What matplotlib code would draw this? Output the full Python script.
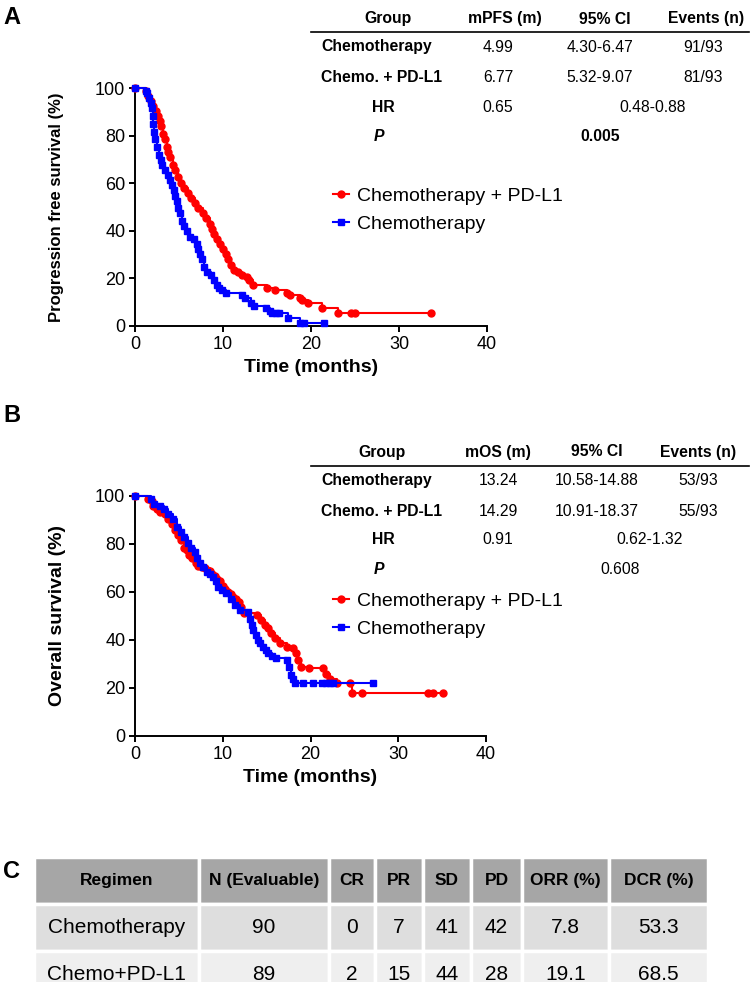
import matplotlib.pyplot as plt
from matplotlib.lines import Line2D

plt.rcParams['font.family'] = ['Liberation Sans', 'DejaVu Sans']

W, H = 750, 982

# ---- Kaplan-Meier step points (time in months, survival %) ----
pfs_combo_t = [0, 1.2, 1.5, 1.8, 2.1, 2.4, 2.6, 2.8, 3.0, 3.2, 3.4, 3.6, 3.8, 4.0, 4.3, 4.6,
               4.9, 5.2, 5.6, 6.0, 6.4, 6.8, 7.2, 7.7, 8.1, 8.5, 8.8, 9.0, 9.3, 9.7, 10.0,
               10.3, 10.6, 10.9, 11.3, 11.7, 12.2, 12.7, 13.0, 13.4, 15.0, 15.9, 17.3, 17.6,
               18.7, 19.0, 19.7, 21.2, 23.1, 24.6, 25.0, 33.6]
pfs_combo_s = [100, 98.9, 96.8, 94.6, 92.5, 90.3, 88.2, 86.0, 83.9, 80.6, 78.5, 75.3, 73.1,
               71.0, 67.7, 65.6, 62.4, 60.2, 58.1, 55.9, 53.8, 51.6, 49.5, 47.3, 45.2, 43.0,
               40.9, 38.7, 36.6, 34.4, 32.3, 30.1, 28.0, 25.8, 23.7, 22.6, 21.5, 20.4, 19.4,
               17.2, 16.1, 15.1, 14.0, 12.9, 11.8, 10.8, 9.7, 7.5, 5.6, 5.6, 5.6, 5.6]

pfs_chemo_t = [0, 1.2, 1.4, 1.6, 1.8, 1.9, 2.0, 2.1, 2.2, 2.3, 2.5, 2.7, 2.9, 3.1, 3.4, 3.7,
               4.0, 4.2, 4.4, 4.6, 4.8, 4.9, 5.1, 5.3, 5.6, 5.9, 6.3, 6.7, 7.0, 7.2, 7.4, 7.6,
               7.8, 8.2, 8.6, 9.0, 9.3, 9.6, 9.9, 10.3, 12.2, 12.5, 13.2, 13.5, 14.9, 15.3,
               15.6, 16.0, 16.4, 17.4, 18.8, 19.2, 21.5]
pfs_chemo_s = [100, 98.9, 97.8, 95.7, 93.5, 91.4, 88.2, 85.0, 81.7, 78.5, 75.3, 72.0, 69.9,
               67.7, 65.6, 63.4, 61.3, 59.1, 57.0, 54.8, 52.7, 49.5, 47.3, 44.1, 41.9, 39.8,
               37.6, 36.6, 34.4, 32.3, 30.1, 28.0, 24.7, 22.6, 21.5, 19.4, 17.2, 16.1, 15.1,
               14.0, 12.9, 11.8, 9.7, 8.6, 7.5, 6.5, 5.4, 5.4, 5.4, 3.2, 1.1, 1.1, 1.1]

os_combo_t = [0, 1.5, 1.9, 2.1, 2.5, 2.9, 3.4, 3.8, 4.2, 4.6, 4.9, 5.2, 5.6, 5.9, 6.2, 6.5,
              6.9, 7.2, 7.6, 8.0, 8.5, 8.8, 9.1, 9.4, 9.7, 10.0, 10.3, 10.6, 10.9, 11.2, 11.5,
              11.8, 12.1, 12.4, 13.9, 14.4, 14.8, 15.1, 15.5, 15.9, 16.5, 17.3, 18.0, 18.4,
              18.6, 18.9, 19.8, 21.4, 21.8, 22.2, 23.0, 24.5, 24.7, 25.9, 33.4, 34.0, 35.1]
os_combo_s = [100, 98.9, 97.8, 95.7, 94.6, 93.5, 92.5, 90.3, 88.2, 86.0, 83.9, 81.7, 78.5,
              77.4, 75.3, 74.2, 72.0, 71.0, 70.5, 69.9, 68.8, 67.7, 66.6, 65.6, 64.5, 62.4,
              61.3, 60.2, 59.1, 58.1, 57.0, 55.9, 53.8, 51.2, 50.4, 48.3, 46.2, 44.9, 42.8,
              40.7, 38.6, 37.2, 36.5, 34.4, 31.5, 28.6, 28.2, 28.2, 26.0, 23.8, 21.9, 21.9,
              18.1, 18.1, 18.1, 18.1, 18.1]

os_chemo_t = [0, 1.8, 2.2, 2.8, 3.3, 3.8, 4.3, 4.8, 5.2, 5.6, 6.0, 6.4, 6.8, 7.1, 7.4, 7.8,
              8.2, 8.6, 8.9, 9.2, 9.5, 9.9, 10.4, 10.9, 11.4, 12.0, 12.9, 13.1, 13.3, 13.5,
              13.8, 14.0, 14.3, 14.6, 14.9, 15.2, 15.6, 16.1, 17.3, 17.6, 17.8, 18.0, 18.2,
              19.2, 20.3, 21.3, 21.8, 22.2, 22.6, 27.1]
os_chemo_s = [100, 98.9, 96.8, 95.7, 94.6, 92.5, 90.3, 87.1, 84.9, 82.8, 80.6, 78.5, 76.8,
              74.2, 72.0, 70.5, 68.5, 67.3, 66.1, 64.5, 62.2, 60.8, 59.5, 57.2, 54.6, 52.5,
              51.7, 48.9, 46.3, 44.2, 42.1, 40.0, 38.6, 37.2, 35.8, 34.4, 33.3, 32.4, 31.7,
              28.9, 25.4, 23.6, 21.9, 21.9, 21.9, 21.9, 21.9, 21.9, 21.9, 21.9]

x_ticks = [0, 10, 20, 30, 40]
y_ticks = [0, 20, 40, 60, 80, 100]
legend_labels = ['Chemotherapy + PD-L1', 'Chemotherapy']

# ---- summary tables ----
pfs_header = ['Group', 'mPFS (m)', '95% CI', 'Events (n)']
pfs_rows = [['Chemotherapy', '4.99', '4.30-6.47', '91/93'],
            ['Chemo. + PD-L1', '6.77', '5.32-9.07', '81/93']]
pfs_hr = ['0.65', '0.48-0.88']
pfs_p = '0.005'

os_header = ['Group', 'mOS (m)', '95% CI', 'Events (n)']
os_rows = [['Chemotherapy', '13.24', '10.58-14.88', '53/93'],
           ['Chemo. + PD-L1', '14.29', '10.91-18.37', '55/93']]
os_hr = ['0.91', '0.62-1.32']
os_p = '0.608'

resp_cols = ['Regimen', 'N (Evaluable)', 'CR', 'PR', 'SD', 'PD', 'ORR (%)', 'DCR (%)']
resp_chemo = ['Chemotherapy', 90, 0, 7, 41, 42, 7.8, 53.3]
resp_combo = ['Chemo+PD-L1', 89, 2, 15, 44, 28, 19.1, 68.5]

RED, BLUE = '#ff0000', '#0000ff'

fig = plt.figure(figsize=(W / 100, H / 100), dpi=100)


def fx(x):
    return x / W


def fy(y):
    return 1 - y / H


def km_panel(left, top, right, bottom, curves, ylabel, ylabel_size, legend_top):
    ax = fig.add_axes([fx(left), fy(bottom), (right - left) / W, (bottom - top) / H])
    handles = []
    for t, s, color, marker, ms in curves:
        ln, = ax.plot(t, s, drawstyle='steps-post', color=color, lw=1.5, marker=marker,
                      ms=ms, mec=color, mfc=color, clip_on=False, zorder=3)
        handles.append(ln)
    ax.set_xlim(0, 40)
    ax.set_ylim(0, 100)
    ax.set_xticks(x_ticks)
    ax.set_yticks(y_ticks)
    ax.spines[['top', 'right']].set_visible(False)
    for sp in ('left', 'bottom'):
        ax.spines[sp].set_linewidth(1.4)
    ax.tick_params(direction='out', length=4, width=1.4, labelsize=13, pad=3)
    ax.set_xlabel('Time (months)', fontsize=14, fontweight='bold')
    ax.xaxis.set_label_coords(0.5, -(368 - 326) / (bottom - top))
    ax.xaxis.label.set_va('center')
    ax.set_ylabel(ylabel, fontsize=ylabel_size, fontweight='bold')
    ax.yaxis.set_label_coords(-(left - 57) / (right - left), 0.5)
    ax.yaxis.label.set_va('center')
    ax.legend(handles=handles, labels=legend_labels, loc='upper left',
              bbox_to_anchor=(fx(333), fy(legend_top)), bbox_transform=fig.transFigure,
              frameon=False, borderpad=0, borderaxespad=0, handlelength=0.8,
              handletextpad=0.45, labelspacing=0.55, fontsize=14, numpoints=1)
    return ax


def stats_table(y_head, y_line, y_rows, header, rows, hr, p, head_x, val_x, hr_ci_x, p_x,
                p_bold):
    fs = 11.3
    for x, h in zip(head_x, header):
        fig.text(fx(x), fy(y_head), h, ha='center', va='center', fontsize=fs,
                 fontweight='bold')
    fig.add_artist(Line2D([fx(311), fx(749)], [fy(y_line)] * 2, color='black', lw=1.2))
    for y, row in zip(y_rows[:2], rows):
        fig.text(fx(321), fy(y), row[0], ha='left', va='center', fontsize=fs,
                 fontweight='bold')
        for x, v in zip(val_x, row[1:]):
            fig.text(fx(x), fy(y), v, ha='center', va='center', fontsize=fs)
    fig.text(fx(383), fy(y_rows[2]), 'HR', ha='center', va='center', fontsize=fs,
             fontweight='bold')
    fig.text(fx(val_x[0]), fy(y_rows[2]), hr[0], ha='center', va='center', fontsize=fs)
    fig.text(fx(hr_ci_x), fy(y_rows[2]), hr[1], ha='center', va='center', fontsize=fs)
    fig.text(fx(379), fy(y_rows[3]), 'P', ha='center', va='center', fontsize=fs,
             fontweight='bold', fontstyle='italic')
    fig.text(fx(p_x), fy(y_rows[3]), p, ha='center', va='center', fontsize=fs,
             fontweight='bold' if p_bold else 'normal')


# ---- Panel A ----
km_panel(135, 88, 487, 326,
         [(pfs_combo_t, pfs_combo_s, RED, 'o', 5.0), (pfs_chemo_t, pfs_chemo_s, BLUE, 's', 4.6)],
         'Progression free survival (%)', 12, 187)
stats_table(19, 32, [47, 78, 107, 137], pfs_header, pfs_rows, pfs_hr, pfs_p,
            [388, 505, 605, 706], [498, 600, 703], 653, 600, True)

# ---- Panel B ----
km_panel(135, 496, 486, 736,
         [(os_combo_t, os_combo_s, RED, 'o', 5.0), (os_chemo_t, os_chemo_s, BLUE, 's', 4.6)],
         'Overall survival (%)', 14, 592)
stats_table(452, 466, [481, 511, 540, 570], os_header, os_rows, os_hr, os_p,
            [382, 498, 597, 698], [498, 597, 698], 650, 620, False)

# ---- Panel C ----
col_edges = [34, 199, 329, 375, 423, 471, 522, 609, 708]
col_w = [b - a for a, b in zip(col_edges[:-1], col_edges[1:])]
tab_top, tab_bottom = 857, 998
axc = fig.add_axes([fx(col_edges[0]), fy(tab_bottom), (col_edges[-1] - col_edges[0]) / W,
                    (tab_bottom - tab_top) / H])
axc.axis('off')
cell_text = [[str(v) for v in resp_chemo], [str(v) for v in resp_combo]]
tbl = axc.table(cellText=cell_text, colLabels=resp_cols,
                colWidths=[w / sum(col_w) for w in col_w], bbox=[0, 0, 1, 1],
                cellLoc='center')
tbl.auto_set_font_size(False)
row_colors = {0: '#a6a6a6', 1: '#dedede', 2: '#efefef'}
for (r, c), cell in tbl.get_celld().items():
    cell.set_edgecolor('white')
    cell.set_linewidth(2.5)
    cell.set_facecolor(row_colors[r])
    txt = cell.get_text()
    if r == 0:
        txt.set_fontsize(12.5)
        txt.set_fontweight('bold')
    else:
        txt.set_fontsize(15)

# ---- panel letters ----
for letter, y in (('A', 18), ('B', 415), ('C', 872)):
    fig.text(fx(3), fy(y), letter, ha='left', va='center', fontsize=17, fontweight='bold')

fig.savefig('out.png', dpi=100)
